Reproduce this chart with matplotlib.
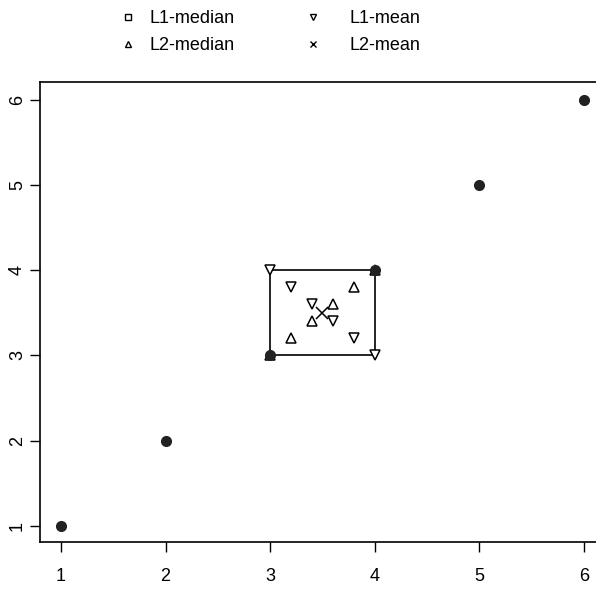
import matplotlib.pyplot as plt

plt.rcParams['font.family'] = ['Liberation Sans', 'DejaVu Sans']

# data points
px = [1, 2, 3, 4, 5, 6]
py = [1, 2, 3, 4, 5, 6]

# L1-median set (rectangle corners)
box_x = [3, 4, 4, 3, 3]
box_y = [4, 4, 3, 3, 4]

# L1-mean points
l1m_x = [3, 4, 3.2, 3.8, 3.4, 3.6]
l1m_y = [4, 3, 3.8, 3.2, 3.6, 3.4]

# L2-median points
l2med_x = [3, 4, 3.2, 3.8, 3.4, 3.6]
l2med_y = [3, 4, 3.2, 3.8, 3.4, 3.6]

# L2-mean
l2mean_x = [3.5]
l2mean_y = [3.5]

fig = plt.figure(figsize=(5.96, 5.90), dpi=100)
ax = fig.add_axes([40/596, 48/590, 556/596, 460/590])

ax.plot(box_x, box_y, color="black", linewidth=1.2, zorder=2)
ax.plot(l1m_x, l1m_y, linestyle="none", marker="v", markersize=7,
        markerfacecolor="white", markeredgecolor="black", markeredgewidth=1.1, zorder=3)
ax.plot(l2med_x, l2med_y, linestyle="none", marker="^", markersize=7,
        markerfacecolor="white", markeredgecolor="black", markeredgewidth=1.1, zorder=3)
ax.plot(l2mean_x, l2mean_y, linestyle="none", marker="x", markersize=8,
        color="black", markeredgewidth=1.1, zorder=3)
ax.plot(px, py, linestyle="none", marker="o", markersize=7,
        color="#222222", zorder=4)

ax.set_xlim(0.8, 6.115)
ax.set_ylim(0.81, 6.21)
ax.set_xticks([1, 2, 3, 4, 5, 6])
ax.set_yticks([1, 2, 3, 4, 5, 6])
ax.tick_params(direction="out", length=7, width=1, labelsize=13)
ax.tick_params(axis="x", pad=12)
ax.tick_params(axis="y", pad=3)
for lbl in ax.get_yticklabels():
    lbl.set_rotation(90)
    lbl.set_va("center")
ax.spines["right"].set_visible(False)
for s in ["left", "bottom", "top"]:
    ax.spines[s].set_linewidth(1.2)

# legend handles
def handle(m):
    h, = ax.plot([], [], linestyle="none", marker=m, markersize=5,
                 markerfacecolor="white", markeredgecolor="black")
    return h

leg_kw = dict(frameon=False, fontsize=13, loc="upper left", handlelength=1.2,
              labelspacing=0.55, borderaxespad=0)
leg1 = fig.legend([handle("s"), handle("^")], ["L1-median", "L2-median"],
                  bbox_to_anchor=(110/596, 1 - 3/590), handletextpad=0.6, **leg_kw)
leg2 = fig.legend([handle("v"), handle("x")], ["L1-mean", "L2-mean"],
                  bbox_to_anchor=(295/596, 1 - 3/590), handletextpad=1.4, **leg_kw)

plt.savefig("out.png", dpi=100)
